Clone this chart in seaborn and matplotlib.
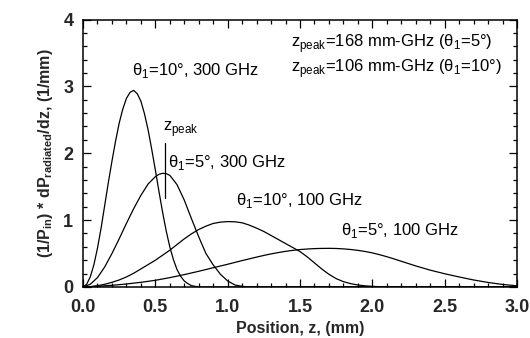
import numpy as np
import pandas as pd
import matplotlib
matplotlib.use("Agg")
import matplotlib.pyplot as plt
from matplotlib.ticker import MultipleLocator
import seaborn as sns

# Radiated power density along the structure, (1/P_in) dP/dz in 1/mm
z_10deg_300 = [0.000, 0.025, 0.050, 0.075, 0.100, 0.125, 0.150, 0.175, 0.200,
               0.225, 0.250, 0.275, 0.300, 0.325, 0.350, 0.375, 0.400, 0.425,
               0.450, 0.475, 0.500, 0.525, 0.550, 0.575, 0.600, 0.625, 0.650,
               0.675, 0.700, 0.725, 0.750, 0.775, 0.800, 3.000]
p_10deg_300 = [0.00, 0.04, 0.15, 0.33, 0.58, 0.88, 1.22, 1.56, 1.88,
               2.18, 2.45, 2.66, 2.82, 2.91, 2.94, 2.89, 2.78, 2.59,
               2.35, 2.06, 1.75, 1.43, 1.12, 0.84, 0.60, 0.41, 0.26,
               0.16, 0.09, 0.05, 0.02, 0.01, 0.00, 0.00]

z_5deg_300 = [0.000, 0.050, 0.100, 0.150, 0.200, 0.250, 0.300, 0.350, 0.400,
              0.450, 0.500, 0.525, 0.550, 0.575, 0.600, 0.650, 0.700, 0.750,
              0.800, 0.850, 0.900, 0.950, 1.000, 1.050, 1.100, 1.150, 3.000]
p_5deg_300 = [0.00, 0.04, 0.14, 0.30, 0.50, 0.72, 0.95, 1.17, 1.37,
              1.54, 1.65, 1.685, 1.70, 1.695, 1.67, 1.53, 1.30, 1.02,
              0.75, 0.50, 0.33, 0.19, 0.09, 0.03, 0.01, 0.00, 0.00]

z_10deg_100 = [0.00, 0.05, 0.10, 0.15, 0.20, 0.25, 0.30, 0.35, 0.40, 0.45,
               0.50, 0.55, 0.60, 0.65, 0.70, 0.75, 0.80, 0.85, 0.90, 0.95,
               1.00, 1.05, 1.10, 1.15, 1.20, 1.25, 1.30, 1.35, 1.40, 1.45,
               1.50, 1.55, 1.60, 1.65, 1.70, 1.75, 1.80, 1.85, 1.90, 1.95,
               2.00, 2.05, 2.10, 3.00]
p_10deg_100 = [0.000, 0.005, 0.020, 0.040, 0.070, 0.105, 0.150, 0.205, 0.270, 0.335,
               0.400, 0.475, 0.550, 0.635, 0.720, 0.795, 0.860, 0.910, 0.950, 0.970,
               0.978, 0.975, 0.960, 0.925, 0.880, 0.830, 0.770, 0.710, 0.650, 0.590,
               0.530, 0.450, 0.360, 0.270, 0.190, 0.125, 0.080, 0.050, 0.030, 0.017,
               0.010, 0.004, 0.000, 0.000]

z_5deg_100 = [0.0, 0.1, 0.2, 0.3, 0.4, 0.5, 0.6, 0.7, 0.8, 0.9, 1.0, 1.1, 1.2,
              1.25, 1.3, 1.35, 1.4, 1.45, 1.5, 1.55, 1.6, 1.65, 1.7, 1.75, 1.8,
              1.85, 1.9, 1.95, 2.0, 2.05, 2.1, 2.15, 2.2, 2.25, 2.3, 2.4, 2.5,
              2.6, 2.7, 2.8, 2.9, 3.0]
p_5deg_100 = [0.000, 0.010, 0.025, 0.045, 0.070, 0.100, 0.140, 0.185, 0.235,
              0.288, 0.340, 0.395, 0.447, 0.472, 0.495, 0.515, 0.533, 0.548,
              0.560, 0.568, 0.574, 0.577, 0.578, 0.576, 0.570, 0.561, 0.548,
              0.531, 0.510, 0.483, 0.453, 0.420, 0.385, 0.350, 0.315, 0.252,
              0.198, 0.150, 0.105, 0.068, 0.038, 0.018]

z_peak_5deg_300 = 0.565

x_ticks = [0.0, 0.5, 1.0, 1.5, 2.0, 2.5, 3.0]
y_ticks = [0, 1, 2, 3, 4]

curves = pd.concat([
    pd.DataFrame({"z": z_10deg_300, "p": p_10deg_300, "case": "10deg_300"}),
    pd.DataFrame({"z": z_5deg_300, "p": p_5deg_300, "case": "5deg_300"}),
    pd.DataFrame({"z": z_10deg_100, "p": p_10deg_100, "case": "10deg_100"}),
    pd.DataFrame({"z": z_5deg_100, "p": p_5deg_100, "case": "5deg_100"}),
], ignore_index=True)

sns.set_style("ticks")
plt.rcParams["font.family"] = ["Liberation Sans", "DejaVu Sans"]
plt.rcParams["mathtext.fontset"] = "custom"
plt.rcParams["mathtext.rm"] = "Liberation Sans"
plt.rcParams["mathtext.bf"] = "Liberation Sans:bold"

fig = plt.figure(figsize=(5.30, 3.38), dpi=100)
ax = fig.add_axes([0.1566, 0.1509, 0.8189, 0.7914])

sns.lineplot(data=curves, x="z", y="p", units="case", estimator=None,
             color="black", linewidth=0.9, sort=False, ax=ax, legend=False)

ax.set_xlim(0, 3.0)
ax.set_ylim(0, 4)
ax.set_xticks(x_ticks)
ax.set_yticks(y_ticks)
ax.set_xticklabels([f"{v:.1f}" for v in x_ticks], fontweight="bold", fontsize=13)
ax.set_yticklabels([str(v) for v in y_ticks], fontweight="bold", fontsize=13)
ax.xaxis.set_minor_locator(MultipleLocator(0.1))
ax.yaxis.set_minor_locator(MultipleLocator(0.2))
ax.tick_params(which="both", direction="in", top=True, right=True, color="black", width=0.9)
ax.tick_params(which="major", length=6)
ax.tick_params(which="minor", length=3)
ax.tick_params(axis="x", which="major", pad=9)
ax.tick_params(axis="y", which="major", pad=7)
for s in ax.spines.values():
    s.set_visible(True)
    s.set_linewidth(1.1)
    s.set_color("black")

ax.set_xlabel("Position, z, (mm)", fontweight="bold", fontsize=11.5, labelpad=3)
ax.set_ylabel(r"(1/P$_\mathbf{in}$) * dP$_\mathbf{radiated}$/dz, (1/mm)",
              fontweight="bold", fontsize=11.5, labelpad=6)

tk = dict(fontsize=12, color="black", va="center", ha="left")
ax.text(0.34, 3.24, r"θ$_\mathregular{1}$=10°, 300 GHz", **tk)
ax.text(0.59, 1.86, r"θ$_\mathregular{1}$=5°, 300 GHz", **tk)
ax.text(1.06, 1.30, r"θ$_\mathregular{1}$=10°, 100 GHz", **tk)
ax.text(1.78, 0.84, r"θ$_\mathregular{1}$=5°, 100 GHz", **tk)
ax.text(1.44, 3.64, r"z$_\mathregular{peak}$=168 mm-GHz (θ$_\mathregular{1}$=5°)", **tk)
ax.text(1.44, 3.27, r"z$_\mathregular{peak}$=106 mm-GHz (θ$_\mathregular{1}$=10°)", **tk)

# marker at the peak of the 5 deg, 300 GHz curve
ax.text(0.55, 2.36, r"z$_\mathregular{peak}$", **tk)
ax.plot([z_peak_5deg_300, z_peak_5deg_300], [1.33, 2.15], color="black", linewidth=0.9)

fig.savefig("out.png", dpi=100)
